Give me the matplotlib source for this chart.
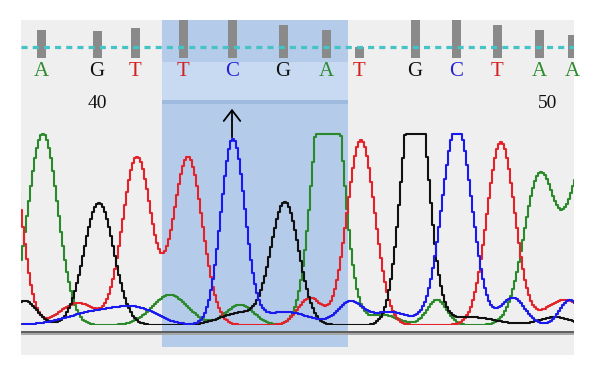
import numpy as np
import matplotlib
matplotlib.use('Agg')
import matplotlib.pyplot as plt
from matplotlib.patches import Rectangle

# base calls (scan position, quality bar height)
bases = ['A', 'G', 'T', 'T', 'C', 'G', 'A', 'T', 'G', 'C', 'T', 'A', 'A']
call_pos = [41, 97, 135, 183, 232, 283, 326, 359, 415, 456, 497, 539, 572]
quality = [28, 27, 30, 45, 45, 33, 28, 11, 45, 45, 33, 28, 23]
base_numbers = ['40', '50']
number_pos = [97, 548]

# trace peaks: (scan position, intensity, width)
peaks_A = [(43, 192, 15), (170, 30, 18), (240, 20, 14), (328, 290, 14),
           (383, 10, 15), (437, 25, 10), (540, 150, 16), (585, 160, 16)]
peaks_G = [(25, 24, 12), (99, 122, 15), (240, 12, 20), (285, 122, 14),
           (415, 255, 13), (470, 8, 25), (555, 8, 15)]
peaks_T = [(8, 190, 13), (78, 22, 18), (137, 168, 14.5), (188, 168, 14.5),
           (310, 27, 12), (361, 185, 14), (501, 183, 14), (565, 25, 20)]
peaks_C = [(100, 14, 30), (140, 12, 20), (233, 185, 12), (285, 13, 25),
           (350, 22, 12), (390, 13, 20), (457, 200, 15), (513, 27, 12),
           (570, 25, 10)]

# selected region
sel_start, sel_end = 162, 348
arrow_pos = 232

colors = {'A': '#2a8a2a', 'G': '#111111', 'T': '#e52228', 'C': '#1a1af0'}
text_colors = {'A': '#2e8b2e', 'G': '#111111', 'T': '#d42020', 'C': '#2222d2'}

fig = plt.figure(figsize=(6, 3.76), dpi=100)

# background panel in pixel coords
bg = fig.add_axes([21 / 600, (376 - 355) / 376, 553 / 600, 335 / 376])
bg.set_xlim(21, 574)
bg.set_ylim(355, 20)
bg.set_facecolor('#efefef')
for s in bg.spines.values():
    s.set_visible(False)
bg.set_xticks([])
bg.set_yticks([])

bg.add_patch(Rectangle((sel_start, 20), sel_end - sel_start, 327,
                       color='#b4cbea', lw=0, zorder=1))
bg.add_patch(Rectangle((sel_start, 62), sel_end - sel_start, 39,
                       color='#c7daf1', lw=0, zorder=1.1))
bg.add_patch(Rectangle((sel_start, 100), sel_end - sel_start, 3.5,
                       color='#9fbadf', lw=0, zorder=1.2))

# quality bars
bg.bar(call_pos, [-q for q in quality], bottom=58, width=9,
       color='#8a8a8a', zorder=2)
bg.axhline(47, color='#44c4c6', lw=2.3, dashes=(1.9, 1.6), zorder=3)

for b, p in zip(bases, call_pos):
    bg.text(p, 72, b, color=text_colors[b], ha='center', va='center',
            fontsize=15, family='Liberation Serif', zorder=4)
for t, p in zip(base_numbers, number_pos):
    bg.text(p, 103, t, color='#111111', ha='center', va='center',
            fontsize=14, family='Liberation Serif', zorder=4)

bg.annotate('', xy=(arrow_pos, 106), xytext=(arrow_pos, 140),
            arrowprops=dict(arrowstyle='->,head_length=0.35,head_width=0.27',
                            lw=1.3, color='black', mutation_scale=22),
            zorder=5)

# baseline
bg.axhline(331.8, color='#5c5c5c', lw=1.4, zorder=2)
bg.axhline(333.8, color='#a5a5a5', lw=1.4, zorder=2)

# traces
tr = fig.add_axes([21 / 600, (376 - 325) / 376, 553 / 600, 195 / 376])
tr.set_xlim(21, 574)
tr.set_ylim(0, 195)
tr.patch.set_alpha(0)
tr.axis('off')

x = np.arange(15, 580, 2.0)
for base, peaks in [('A', peaks_A), ('T', peaks_T), ('G', peaks_G), ('C', peaks_C)]:
    y = np.zeros_like(x)
    for mu, h, w in peaks:
        y += h * np.exp(-(x - mu) ** 2 / (2 * w ** 2))
    y = np.minimum(np.round(y), 191)
    tr.plot(x, y, color=colors[base], lw=1.5, drawstyle='steps-mid')

fig.savefig('out.png', dpi=100)
